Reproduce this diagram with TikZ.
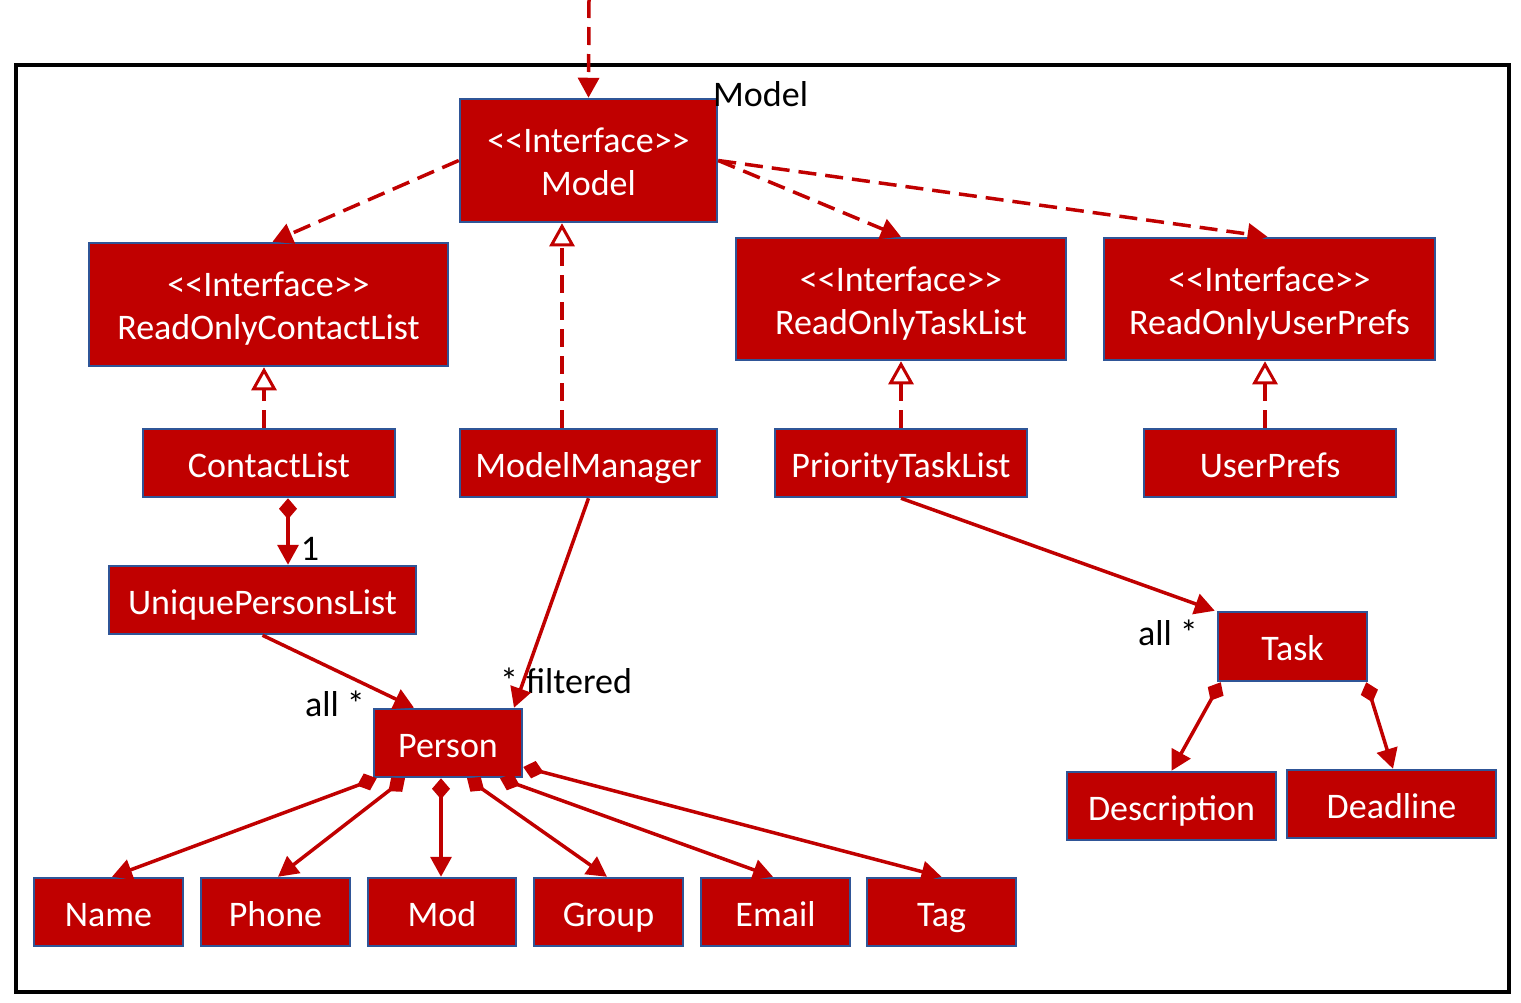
\documentclass[tikz,border=0pt]{standalone}
\usepackage{fontspec}
\setmainfont{Carlito}
\usetikzlibrary{arrows.meta}
\definecolor{boxred}{HTML}{C00000}
\definecolor{boxblue}{HTML}{2F5597}
\newcommand{\ltlt}{<\kern0pt<}
\newcommand{\gtgt}{>\kern0pt>}
\tikzset{
  box/.style={draw=boxblue, line width=2.5pt, fill=boxred, text=white, align=center,
    inner sep=0pt, font=\fontsize{36}{43}\selectfont},
  onebox/.style={box, text height=30pt, text depth=2pt},
  twobox/.style={box, text height=72pt, text depth=2pt},
  lbl/.style={inner sep=0pt, text=black, font=\fontsize{36}{43}\selectfont},
  conn/.style={draw=boxred, line width=3.5pt},
  dashconn/.style={conn, dash pattern=on 18pt off 9pt},
  headtip/.style={-{Triangle[length=20pt,width=21pt]}},
  realize/.style={-{Triangle[open,length=23pt,width=25pt,line width=3pt]}},
  comp/.style={{Diamond[length=21pt,width=18pt]}-{Triangle[length=20pt,width=21pt]}},
}
\begin{document}
\begin{tikzpicture}[x=1pt,y=-1pt]
\useasboundingbox (0,0) rectangle (1521,1002);
\draw[line width=4pt] (16,65) rectangle (1509,992);

\node[twobox, minimum width=257pt, minimum height=123pt] (model) at (588.5,160.5) {\ltlt Interface\gtgt\\Model};
\node[lbl, anchor=west] (modellbl) at (713,94) {Model};

\node[twobox, minimum width=359pt, minimum height=123pt] (rocl) at (268.5,304.5) {\ltlt Interface\gtgt\\ReadOnlyContactList};
\node[twobox, minimum width=330pt, minimum height=122pt] (rotl) at (901,299) {\ltlt Interface\gtgt\\ReadOnlyTaskList};
\node[twobox, minimum width=331pt, minimum height=122pt] (roup) at (1269.5,299) {\ltlt Interface\gtgt\\ReadOnlyUserPrefs};

\node[onebox, minimum width=252pt, minimum height=68pt] (cl) at (269,463) {ContactList};
\node[onebox, minimum width=257pt, minimum height=68pt] (mm) at (588.5,463) {ModelManager};
\node[onebox, minimum width=252pt, minimum height=68pt] (ptl) at (901,463) {PriorityTaskList};
\node[onebox, minimum width=252pt, minimum height=68pt] (up) at (1270,463) {UserPrefs};

\node[onebox, minimum width=307pt, minimum height=68pt] (upl) at (262.5,600) {UniquePersonsList};
\node[onebox, minimum width=148pt, minimum height=68pt] (person) at (448,743) {Person};
\node[onebox, minimum width=149pt, minimum height=69pt] (task) at (1292.5,646.5) {Task};
\node[onebox, minimum width=209pt, minimum height=68pt] (desc) at (1171.5,806) {Description};
\node[onebox, minimum width=209pt, minimum height=68pt] (dl) at (1391.5,804) {Deadline};

\node[onebox, minimum width=149pt, minimum height=68pt] (name) at (108.5,912) {Name};
\node[onebox, minimum width=149pt, minimum height=68pt] (phone) at (275.5,912) {Phone};
\node[onebox, minimum width=148pt, minimum height=68pt] (mod) at (442,912) {Mod};
\node[onebox, minimum width=149pt, minimum height=68pt] (group) at (608.5,912) {Group};
\node[onebox, minimum width=149pt, minimum height=68pt] (email) at (775.5,912) {Email};
\node[onebox, minimum width=149pt, minimum height=68pt] (tag) at (941.5,912) {Tag};

\node[lbl] (one) at (310,549) {1};
\node[lbl] (allp) at (335,704) {all *};
\node[lbl] (filt) at (566,681) {* filtered};
\node[lbl] (allt) at (1168,633) {all *};

\coordinate (top) at (589,0);

% dependencies
\draw[dashconn, headtip] (top) -- (model.north);
\draw[dashconn, headtip] (model.west) -- ([xshift=4pt]rocl.north);
\draw[dashconn, headtip] (model.east) -- (rotl.north);
\draw[dashconn, headtip] (model.east) -- ([xshift=-2pt]roup.north);

% realizations
\draw[dashconn, realize] ([xshift=-26.5pt]mm.north) -- ([xshift=-26.5pt]model.south);
\draw[dashconn, realize] ([xshift=-5pt]cl.north) -- ([xshift=-4.5pt]rocl.south);
\draw[dashconn, realize] (ptl.north) -- (rotl.south);
\draw[dashconn, realize] ([xshift=-5pt]up.north) -- ([xshift=-4.5pt]roup.south);

% associations
\draw[conn, comp] ([xshift=19pt]cl.south) -- ([xshift=25.5pt]upl.north);
\draw[conn, headtip] (upl.south) -- ([xshift=-34pt]person.north);
\draw[conn, headtip] (mm.south) -- ([xshift=66pt]person.north);
\draw[conn, headtip] (ptl.south) -- ([xshift=-2pt]task.north west);
\draw[conn, comp] ([xshift=4pt]task.south west) -- (desc.north);
\draw[conn, comp] ([xshift=-2pt]task.south east) -- ([xshift=1.5pt]dl.north);

% person composition
\draw[conn, comp] ([xshift=4pt]person.south west) -- ([xshift=3.5pt]name.north);
\draw[conn, comp] ([xshift=-43pt]person.south) -- ([xshift=2.5pt]phone.north);
\draw[conn, comp] ([xshift=-7pt]person.south) -- ([xshift=-1pt]mod.north);
\draw[conn, comp] ([xshift=19pt]person.south) -- ([xshift=-1.5pt]group.north);
\draw[conn, comp] ([xshift=52pt]person.south) -- ([xshift=-2.5pt]email.north);
\draw[conn, comp] ([yshift=-24pt]person.east) -- (tag.north);
\end{tikzpicture}
\end{document}
